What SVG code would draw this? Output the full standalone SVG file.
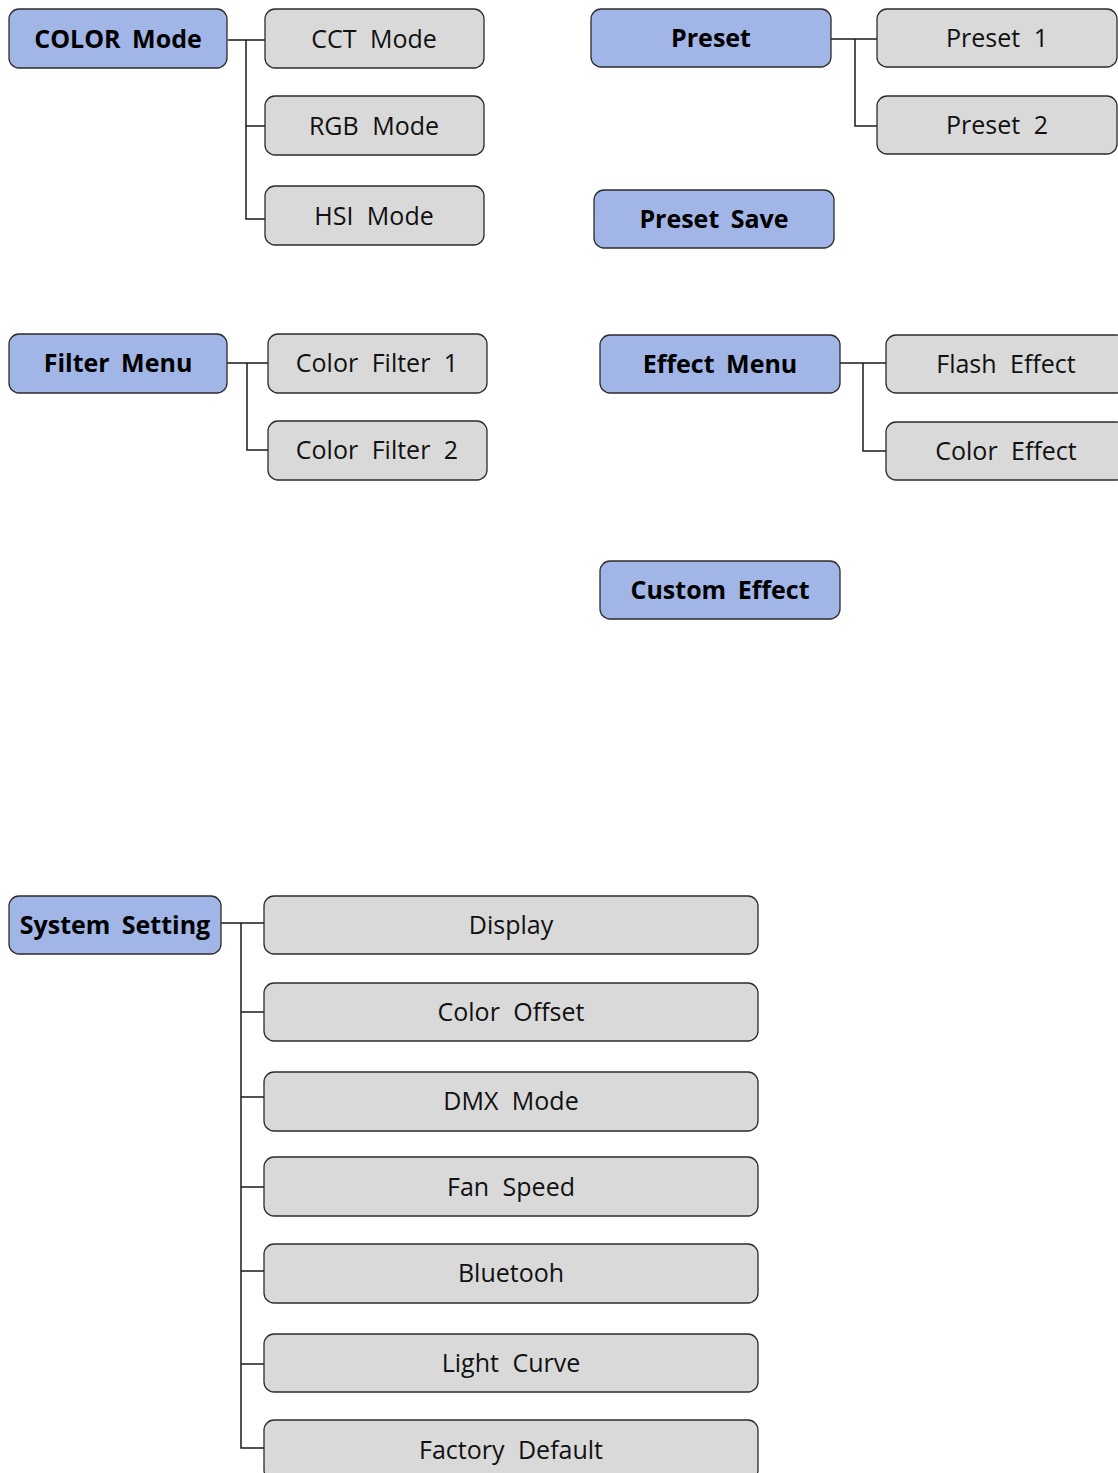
<svg xmlns="http://www.w3.org/2000/svg" width="1118" height="1473" viewBox="0 0 1118 1473">
<style>
.p{fill:#a1b5e6;stroke:#2b2b2b;stroke-width:1.3}
.c{fill:#d9d9d9;stroke:#2b2b2b;stroke-width:1.3}
.tb{font-family:"Open Sans","Noto Sans","Liberation Sans",sans-serif;font-weight:bold;font-size:25px;fill:#000;text-anchor:middle;dominant-baseline:central;word-spacing:5px;letter-spacing:0px}
.tc{font-family:"Open Sans","Noto Sans","Liberation Sans",sans-serif;font-size:25px;fill:#111;text-anchor:middle;dominant-baseline:central;word-spacing:7px}
.ln{fill:none;stroke:#1a1a1a;stroke-width:1.5}
</style>
<rect width="1118" height="1473" fill="#fff"/>
<g id="connectors">
<path class="ln" d="M228,40H265M246,40V219H265M246,126H265"/>
<path class="ln" d="M831,39H877M855,39V126H877"/>
<path class="ln" d="M227,363H268M247,363V450H268"/>
<path class="ln" d="M840,363H886M863,363V451H886"/>
<path class="ln" d="M221,923H264M241,923V1448H264M241,1012H264M241,1097H264M241,1187H264M241,1271H264M241,1364H264"/>
</g>
<g id="color-mode"><rect class="p" x="9" y="9" width="218" height="59" rx="10"/><text class="tb" x="118" y="38">COLOR Mode</text></g>
<g id="cct-mode"><rect class="c" x="265" y="9" width="219" height="59" rx="10"/><text class="tc" x="374" y="38">CCT Mode</text></g>
<g id="rgb-mode"><rect class="c" x="265" y="96" width="219" height="59" rx="10"/><text class="tc" x="374" y="125">RGB Mode</text></g>
<g id="hsi-mode"><rect class="c" x="265" y="186" width="219" height="59" rx="10"/><text class="tc" x="374" y="215">HSI Mode</text></g>
<g id="preset"><rect class="p" x="591" y="9" width="240" height="58" rx="10"/><text class="tb" x="711" y="37">Preset</text></g>
<g id="preset-1"><rect class="c" x="877" y="9" width="240" height="58" rx="10"/><text class="tc" x="997" y="37">Preset 1</text></g>
<g id="preset-2"><rect class="c" x="877" y="96" width="240" height="58" rx="10"/><text class="tc" x="997" y="124">Preset 2</text></g>
<g id="preset-save"><rect class="p" x="594" y="190" width="240" height="58" rx="10"/><text class="tb" x="714" y="218">Preset Save</text></g>
<g id="filter-menu"><rect class="p" x="9" y="334" width="218" height="59" rx="10"/><text class="tb" x="118" y="362">Filter Menu</text></g>
<g id="color-filter-1"><rect class="c" x="268" y="334" width="219" height="59" rx="10"/><text class="tc" x="377" y="362">Color Filter 1</text></g>
<g id="color-filter-2"><rect class="c" x="268" y="421" width="219" height="59" rx="10"/><text class="tc" x="377" y="449">Color Filter 2</text></g>
<g id="effect-menu"><rect class="p" x="600" y="335" width="240" height="58" rx="10"/><text class="tb" x="720" y="363">Effect Menu</text></g>
<g id="flash-effect"><rect class="c" x="886" y="335" width="240" height="58" rx="10"/><text class="tc" x="1006" y="363">Flash Effect</text></g>
<g id="color-effect"><rect class="c" x="886" y="422" width="240" height="58" rx="10"/><text class="tc" x="1006" y="450">Color Effect</text></g>
<g id="custom-effect"><rect class="p" x="600" y="561" width="240" height="58" rx="10"/><text class="tb" x="720" y="589">Custom Effect</text></g>
<g id="system-setting"><rect class="p" x="9" y="896" width="212" height="58" rx="10"/><text class="tb" x="115" y="924">System Setting</text></g>
<g id="display"><rect class="c" x="264" y="896" width="494" height="58" rx="10"/><text class="tc" x="511" y="924">Display</text></g>
<g id="color-offset"><rect class="c" x="264" y="983" width="494" height="58" rx="10"/><text class="tc" x="511" y="1011">Color Offset</text></g>
<g id="dmx-mode"><rect class="c" x="264" y="1072" width="494" height="59" rx="10"/><text class="tc" x="511" y="1100">DMX Mode</text></g>
<g id="fan-speed"><rect class="c" x="264" y="1157" width="494" height="59" rx="10"/><text class="tc" x="511" y="1186">Fan Speed</text></g>
<g id="bluetooh"><rect class="c" x="264" y="1244" width="494" height="59" rx="10"/><text class="tc" x="511" y="1272">Bluetooh</text></g>
<g id="light-curve"><rect class="c" x="264" y="1334" width="494" height="58" rx="10"/><text class="tc" x="511" y="1362">Light Curve</text></g>
<g id="factory-default"><rect class="c" x="264" y="1420" width="494" height="60" rx="10"/><text class="tc" x="511" y="1449">Factory Default</text></g>
</svg>
